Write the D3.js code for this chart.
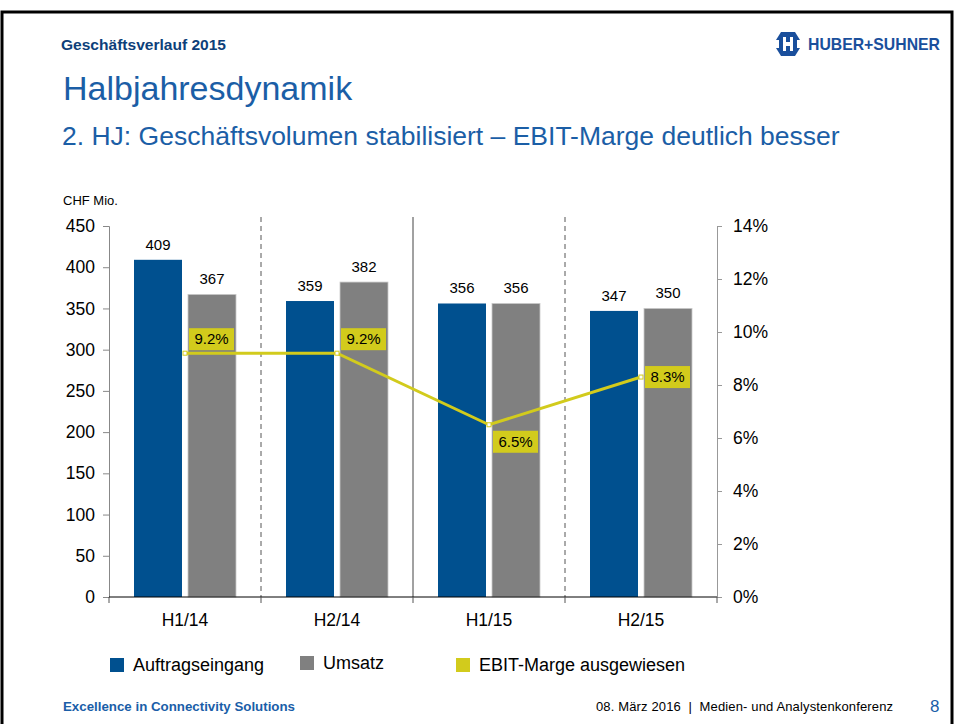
<!DOCTYPE html>
<html>
<head>
<meta charset="utf-8">
<script src="https://cdn.jsdelivr.net/npm/d3@7"></script>
<style>
  body { margin: 0; background: #fff; }
  svg { display: block; font-family: Arial, "Liberation Sans", sans-serif; }
</style>
</head>
<body>
<div id="chart"></div>
<script>
const categories = ["H1/14", "H2/14", "H1/15", "H2/15"];
const auftragseingang = [409, 359, 356, 347];
const umsatz = [367, 382, 356, 350];
const ebitMarge = [9.2, 9.2, 6.5, 8.3];
const leftTicks = [0, 50, 100, 150, 200, 250, 300, 350, 400, 450];
const rightTicks = [0, 2, 4, 6, 8, 10, 12, 14];
// where the EBIT label sits relative to its point
const labelPlace = ["above", "above", "below", "middle"];

const blue = "#00508f";
const gray = "#808080";
const yellow = "#d2cb1c";
const titleBlue = "#1b5ea6";

const width = 955, height = 724;
const svg = d3.select("#chart").append("svg")
    .attr("width", width)
    .attr("height", height);

// slide frame
svg.append("rect")
    .attr("x", 2).attr("y", 12)
    .attr("width", 950).attr("height", 740)
    .attr("fill", "none").attr("stroke", "#000").attr("stroke-width", 3);

// header
svg.append("text")
    .attr("x", 61).attr("y", 50)
    .attr("textLength", 165).attr("lengthAdjust", "spacingAndGlyphs")
    .style("font-weight", "bold").style("font-size", "15px")
    .attr("fill", "#0d3f7a")
    .text("Geschäftsverlauf 2015");

// logo
const logo = svg.append("g").attr("transform", "translate(788,44)");
logo.append("path")
    .attr("d", "M-7,-12 L7,-12 L12,-4 L9,-4 L9,4 L12,4 L7,12 L-7,12 L-12,4 L-9,4 L-9,-4 L-12,-4 Z")
    .attr("fill", "#1a4f9c");
logo.append("path")
    .attr("d", "M-5,-7 L-2,-7 L-2,-2 L2,-2 L2,-7 L5,-7 L5,7 L2,7 L2,2 L-2,2 L-2,7 L-5,7 Z")
    .attr("fill", "#fff");
logo.append("text")
    .attr("x", 20).attr("y", 6)
    .attr("textLength", 132).attr("lengthAdjust", "spacingAndGlyphs")
    .style("font-weight", "900").style("font-size", "17px")
    .attr("fill", "#1a4f9c")
    .text("HUBER+SUHNER");

svg.append("text")
    .attr("x", 63).attr("y", 100)
    .style("font-size", "34px").attr("fill", titleBlue)
    .text("Halbjahresdynamik");
svg.append("text")
    .attr("x", 62).attr("y", 145)
    .style("font-size", "26.5px").attr("fill", titleBlue)
    .text("2. HJ: Geschäftsvolumen stabilisiert – EBIT-Marge deutlich besser");

// plot
const plotLeft = 109, plotRight = 717, plotTop = 226, plotBottom = 597;
const x = d3.scaleBand().domain(categories).range([plotLeft, plotRight]);
const y = d3.scaleLinear().domain([0, 450]).range([plotBottom, plotTop]);
const y2 = d3.scaleLinear().domain([0, 14]).range([plotBottom, plotTop]);
const barW = 48, barGap = 6, barPad = (x.bandwidth() - 2 * barW - barGap) / 2;

svg.append("text")
    .attr("x", 63).attr("y", 205)
    .style("font-size", "13px").attr("fill", "#000")
    .text("CHF Mio.");

// separators between halves
categories.slice(1).forEach((c, i) => {
  svg.append("line")
      .attr("x1", x(c)).attr("x2", x(c))
      .attr("y1", 217).attr("y2", plotBottom)
      .attr("stroke", i === 1 ? "#444" : "#555")
      .attr("stroke-width", 1)
      .attr("stroke-dasharray", i === 1 ? null : "5,4");
});

// left axis
const yAxis = svg.append("g")
    .attr("transform", `translate(${plotLeft},0)`)
    .call(d3.axisLeft(y).tickValues(leftTicks).tickSize(6).tickPadding(8));
yAxis.select(".domain").attr("stroke", "#888");
yAxis.selectAll(".tick line").attr("stroke", "#888");
yAxis.selectAll("text").style("font-size", "17.5px").attr("fill", "#000");

// right axis
const y2Axis = svg.append("g")
    .attr("transform", `translate(${plotRight},0)`)
    .call(d3.axisRight(y2).tickValues(rightTicks).tickSize(5).tickPadding(11)
      .tickFormat(d => d + "%"));
y2Axis.select(".domain").attr("stroke", "#999");
y2Axis.selectAll(".tick line").attr("stroke", "#999");
y2Axis.selectAll("text").style("font-size", "17.5px").attr("fill", "#000");

// bars
const groups = svg.append("g").selectAll("g")
    .data(categories)
    .join("g")
    .attr("transform", d => `translate(${x(d)},0)`);

groups.append("rect")
    .attr("x", barPad)
    .attr("y", (d, i) => y(auftragseingang[i]))
    .attr("width", barW)
    .attr("height", (d, i) => plotBottom - y(auftragseingang[i]))
    .attr("fill", blue);
groups.append("rect")
    .attr("x", barPad + barW + barGap)
    .attr("y", (d, i) => y(umsatz[i]))
    .attr("width", barW)
    .attr("height", (d, i) => plotBottom - y(umsatz[i]))
    .attr("fill", gray)
    .attr("stroke", "#c8c8c8").attr("stroke-width", 0.8);

groups.append("text")
    .attr("x", barPad + barW / 2)
    .attr("y", (d, i) => y(auftragseingang[i]) - 10)
    .attr("text-anchor", "middle")
    .style("font-size", "15px")
    .text((d, i) => auftragseingang[i]);
groups.append("text")
    .attr("x", barPad + barW * 1.5 + barGap)
    .attr("y", (d, i) => y(umsatz[i]) - 10)
    .attr("text-anchor", "middle")
    .style("font-size", "15px")
    .text((d, i) => umsatz[i]);

// x axis
const xAxis = svg.append("g")
    .attr("transform", `translate(0,${plotBottom})`);
xAxis.append("line")
    .attr("x1", plotLeft).attr("x2", plotRight)
    .attr("stroke", "#000");
xAxis.selectAll(".sep")
    .data(d3.range(categories.length + 1))
    .join("line")
    .attr("x1", i => plotLeft + i * x.step()).attr("x2", i => plotLeft + i * x.step())
    .attr("y1", 0).attr("y2", 6)
    .attr("stroke", "#555");
xAxis.selectAll(".lbl")
    .data(categories)
    .join("text")
    .attr("x", d => x(d) + x.bandwidth() / 2)
    .attr("y", 29)
    .attr("text-anchor", "middle")
    .style("font-size", "17.5px")
    .text(d => d);

// EBIT line
const cx = d => x(d) + x.bandwidth() / 2;
const line = d3.line()
    .x((d, i) => cx(categories[i]))
    .y(d => y2(d));
svg.append("path")
    .datum(ebitMarge)
    .attr("d", line)
    .attr("fill", "none")
    .attr("stroke", yellow)
    .attr("stroke-width", 3);
svg.selectAll(".pt")
    .data(ebitMarge)
    .join("rect")
    .attr("x", (d, i) => cx(categories[i]) - 2)
    .attr("y", d => y2(d) - 2)
    .attr("width", 4).attr("height", 4)
    .attr("fill", "#fff")
    .attr("stroke", yellow).attr("stroke-width", 1);

const lblW = 45, lblH = 22;
const lbl = svg.selectAll(".ebit")
    .data(ebitMarge)
    .join("g")
    .attr("transform", (d, i) => {
      const px = cx(categories[i]) + 4;
      const py = y2(d);
      const p = labelPlace[i];
      const ty = p === "above" ? py - lblH - 3 : p === "below" ? py + 6 : py - lblH / 2;
      return `translate(${px},${ty})`;
    });
lbl.append("rect")
    .attr("width", lblW).attr("height", lblH)
    .attr("fill", yellow);
lbl.append("text")
    .attr("x", lblW / 2).attr("y", 16)
    .attr("text-anchor", "middle")
    .style("font-size", "15px")
    .text(d => d.toFixed(1) + "%");

// legend
const legend = [
  { label: "Auftragseingang", color: blue, x: 110, y: 658 },
  { label: "Umsatz", color: gray, x: 300, y: 656 },
  { label: "EBIT-Marge ausgewiesen", color: yellow, x: 456, y: 658 }
];
const lg = svg.selectAll(".leg")
    .data(legend)
    .join("g")
    .attr("transform", d => `translate(${d.x},${d.y})`);
lg.append("rect").attr("width", 14).attr("height", 14).attr("fill", d => d.color);
lg.append("text")
    .attr("x", 23).attr("y", 13)
    .style("font-size", "18px")
    .text(d => d.label);

// footer
svg.append("text")
    .attr("x", 63).attr("y", 711)
    .attr("textLength", 232).attr("lengthAdjust", "spacingAndGlyphs")
    .style("font-weight", "bold").style("font-size", "13px")
    .attr("fill", "#1a5ea8")
    .text("Excellence in Connectivity Solutions");
svg.append("text")
    .attr("x", 596).attr("y", 711)
    .attr("textLength", 297)
    .style("font-size", "13px").style("white-space", "pre")
    .text("08. März 2016  |  Medien- und Analystenkonferenz");
svg.append("text")
    .attr("x", 930).attr("y", 712)
    .style("font-size", "17px").attr("fill", "#1a5ea8")
    .text("8");
</script>
</body>
</html>
